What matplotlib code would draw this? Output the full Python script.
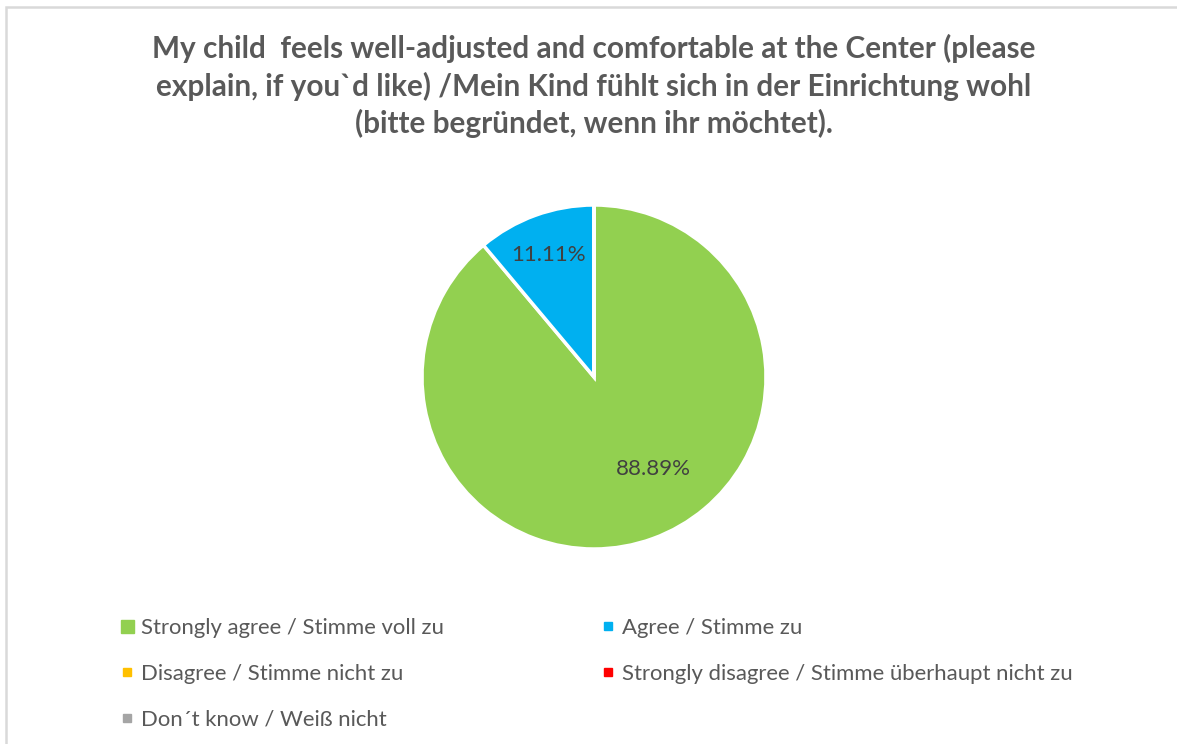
import matplotlib.pyplot as plt
from matplotlib.lines import Line2D
from matplotlib.patches import Rectangle

plt.rcParams['font.family'] = ['Lato', 'DejaVu Sans']

##Data
title = ("My child  feels well-adjusted and comfortable at the Center (please\n"
         "explain, if you`d like) /Mein Kind fühlt sich in der Einrichtung wohl\n"
         "(bitte begründet, wenn ihr möchtet).")
categories = ["Strongly agree / Stimme voll zu",
              "Agree / Stimme zu",
              "Disagree / Stimme nicht zu",
              "Strongly disagree / Stimme überhaupt nicht zu",
              "Don\u00b4t know / Weiß nicht"]
values = [88.89, 11.11, 0, 0, 0]
colors = ["#92D050", "#00B0F0", "#FFC000", "#FF0000", "#A5A5A5"]

W, H = 1177, 744
fig = plt.figure(figsize=(W / 100, H / 100), dpi=100)
fig.patch.set_facecolor("white")

# chart frame (top and left edges visible)
fig.add_artist(Rectangle((6 / W, -0.1), 1.2, 1 - 7 / H + 0.1, transform=fig.transFigure,
                         fill=False, edgecolor="#D9D9D9", linewidth=1.8))

fig.text(594 / W, 1 - 86 / H, title, ha="center", va="center", fontsize=21.4,
         fontweight="bold", color="#595959", linespacing=1.36)

cx, cy, r = 594, 377, 172
ax = fig.add_axes([(cx - r) / W, (H - cy - r) / H, 2 * r / W, 2 * r / H])
wedges, _ = ax.pie(values, colors=colors, startangle=90, counterclock=False,
                   wedgeprops=dict(edgecolor="white", linewidth=2.5))
ax.set_xlim(-1, 1)
ax.set_ylim(-1, 1)
ax.set_aspect("auto")

# data label placement (pie radius units), as Excel's best fit put them
label_pos = [(0.343, -0.535), (-0.267, 0.709)]
for i, v in enumerate(values):
    if v == 0:
        continue
    ax.text(label_pos[i][0], label_pos[i][1], f"{v:.2f}%", ha="center", va="center",
            fontsize=16, color="#404040")

# legend, two columns in row order
sizes = [13, 8, 8, 8, 8]
handles = [Line2D([], [], marker="s", linestyle="none", markersize=sizes[i] * 0.72,
                  markerfacecolor=colors[i], markeredgecolor=colors[i]) for i in range(5)]
order = [0, 2, 4, 1, 3]
fig.legend([handles[i] for i in order], [categories[i] for i in order], ncol=2,
           loc="upper left", bbox_to_anchor=(119 / W, 1 - 618 / H), frameon=False,
           fontsize=15.9, labelcolor="#595959", handlelength=0.7, handletextpad=0.3,
           columnspacing=7.06, labelspacing=1.17, borderpad=0, borderaxespad=0)

fig.savefig("out.png", dpi=100)
